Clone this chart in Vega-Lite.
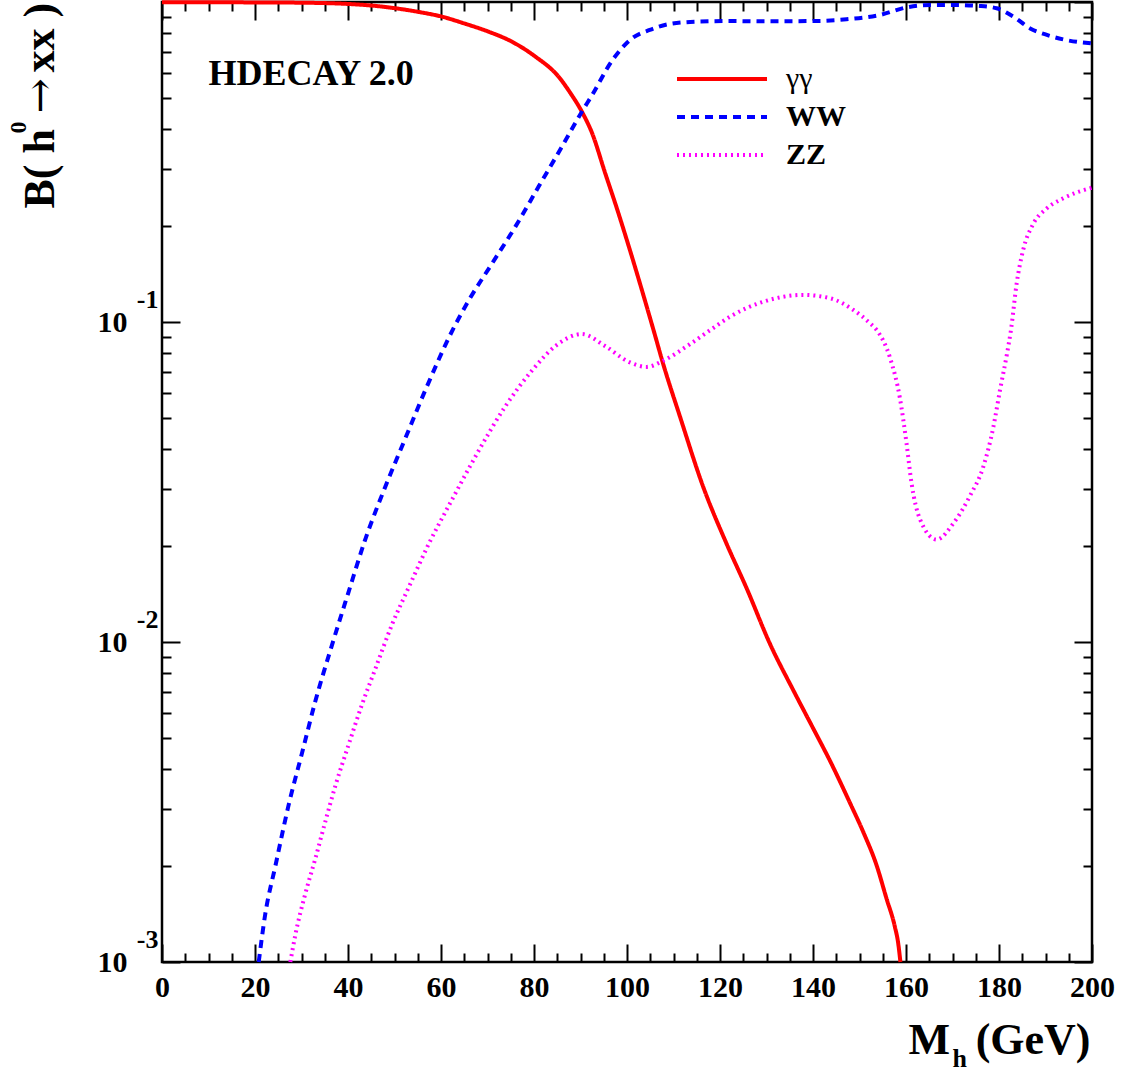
{
  "$schema": "https://vega.github.io/schema/vega-lite/v6.json",
  "width": 930,
  "height": 960,
  "autosize": {"type": "none"},
  "padding": {"left": 162, "top": 2, "right": 30, "bottom": 114},
  "background": "white",
  "config": {
    "font": "Liberation Serif",
    "view": {"stroke": "black", "strokeWidth": 2.5},
    "axis": {
      "grid": false,
      "domain": false,
      "tickColor": "black",
      "tickWidth": 2,
      "labelColor": "black",
      "labelFont": "Liberation Serif",
      "labelFontWeight": "bold",
      "titleColor": "black",
      "titleFont": "Liberation Serif",
      "titleFontWeight": "bold",
      "titleFontSize": 44,
      "titleBaseline": "alphabetic",
      "labelOverlap": false,
      "labelFlush": false,
      "labelBound": false
    }
  },
  "data": {
    "values": [
      {"M": 0, "B": 0.999, "decay": "γγ"},
      {"M": 10, "B": 0.998, "decay": "γγ"},
      {"M": 20, "B": 0.997, "decay": "γγ"},
      {"M": 30, "B": 0.995, "decay": "γγ"},
      {"M": 40, "B": 0.986, "decay": "γγ"},
      {"M": 45, "B": 0.975, "decay": "γγ"},
      {"M": 50.2, "B": 0.956, "decay": "γγ"},
      {"M": 55, "B": 0.932, "decay": "γγ"},
      {"M": 60.2, "B": 0.9, "decay": "γγ"},
      {"M": 65, "B": 0.857, "decay": "γγ"},
      {"M": 70.2, "B": 0.808, "decay": "γγ"},
      {"M": 75.3, "B": 0.751, "decay": "γγ"},
      {"M": 80.3, "B": 0.675, "decay": "γγ"},
      {"M": 85.3, "B": 0.584, "decay": "γγ"},
      {"M": 87.8, "B": 0.52, "decay": "γγ"},
      {"M": 90.3, "B": 0.454, "decay": "γγ"},
      {"M": 92.5, "B": 0.389, "decay": "γγ"},
      {"M": 95.3, "B": 0.292, "decay": "γγ"},
      {"M": 97.8, "B": 0.227, "decay": "γγ"},
      {"M": 100.4, "B": 0.172, "decay": "γγ"},
      {"M": 105.7, "B": 0.0944, "decay": "γγ"},
      {"M": 107.8, "B": 0.0738, "decay": "γγ"},
      {"M": 111.4, "B": 0.0506, "decay": "γγ"},
      {"M": 116.4, "B": 0.0305, "decay": "γγ"},
      {"M": 121.4, "B": 0.0203, "decay": "γγ"},
      {"M": 125.7, "B": 0.01475, "decay": "γγ"},
      {"M": 130.8, "B": 0.00983, "decay": "γγ"},
      {"M": 135.8, "B": 0.00705, "decay": "γγ"},
      {"M": 140.1, "B": 0.00535, "decay": "γγ"},
      {"M": 143.7, "B": 0.00424, "decay": "γγ"},
      {"M": 148, "B": 0.00313, "decay": "γγ"},
      {"M": 150.8, "B": 0.00255, "decay": "γγ"},
      {"M": 153.7, "B": 0.002, "decay": "γγ"},
      {"M": 155.8, "B": 0.00158, "decay": "γγ"},
      {"M": 157.6, "B": 0.00129, "decay": "γγ"},
      {"M": 158.3, "B": 0.00115, "decay": "γγ"},
      {"M": 158.8, "B": 0.001, "decay": "γγ"},

      {"M": 20.8, "B": 0.001, "decay": "WW"},
      {"M": 22.2, "B": 0.00141, "decay": "WW"},
      {"M": 24.4, "B": 0.002, "decay": "WW"},
      {"M": 27.2, "B": 0.00308, "decay": "WW"},
      {"M": 30.1, "B": 0.00449, "decay": "WW"},
      {"M": 33, "B": 0.00655, "decay": "WW"},
      {"M": 36.6, "B": 0.00983, "decay": "WW"},
      {"M": 40.1, "B": 0.0143, "decay": "WW"},
      {"M": 43.7, "B": 0.0209, "decay": "WW"},
      {"M": 48, "B": 0.0305, "decay": "WW"},
      {"M": 52.3, "B": 0.0432, "decay": "WW"},
      {"M": 56.6, "B": 0.0611, "decay": "WW"},
      {"M": 62.6, "B": 0.095, "decay": "WW"},
      {"M": 66, "B": 0.117, "decay": "WW"},
      {"M": 71, "B": 0.1525, "decay": "WW"},
      {"M": 76, "B": 0.1986, "decay": "WW"},
      {"M": 81, "B": 0.265, "decay": "WW"},
      {"M": 86, "B": 0.353, "decay": "WW"},
      {"M": 90.3, "B": 0.454, "decay": "WW"},
      {"M": 92.5, "B": 0.512, "decay": "WW"},
      {"M": 96.8, "B": 0.656, "decay": "WW"},
      {"M": 101.1, "B": 0.77, "decay": "WW"},
      {"M": 104.9, "B": 0.818, "decay": "WW"},
      {"M": 109.2, "B": 0.854, "decay": "WW"},
      {"M": 115, "B": 0.868, "decay": "WW"},
      {"M": 122.2, "B": 0.872, "decay": "WW"},
      {"M": 129.3, "B": 0.87, "decay": "WW"},
      {"M": 140.1, "B": 0.872, "decay": "WW"},
      {"M": 147.2, "B": 0.883, "decay": "WW"},
      {"M": 154.4, "B": 0.911, "decay": "WW"},
      {"M": 160.1, "B": 0.962, "decay": "WW"},
      {"M": 165.2, "B": 0.979, "decay": "WW"},
      {"M": 170.3, "B": 0.979, "decay": "WW"},
      {"M": 175.9, "B": 0.972, "decay": "WW"},
      {"M": 179.5, "B": 0.956, "decay": "WW"},
      {"M": 183.1, "B": 0.9, "decay": "WW"},
      {"M": 186.7, "B": 0.827, "decay": "WW"},
      {"M": 190.3, "B": 0.789, "decay": "WW"},
      {"M": 193.8, "B": 0.764, "decay": "WW"},
      {"M": 200, "B": 0.742, "decay": "WW"},

      {"M": 27.6, "B": 0.001, "decay": "ZZ"},
      {"M": 28.7, "B": 0.00122, "decay": "ZZ"},
      {"M": 30.8, "B": 0.00163, "decay": "ZZ"},
      {"M": 33, "B": 0.00211, "decay": "ZZ"},
      {"M": 35.1, "B": 0.00274, "decay": "ZZ"},
      {"M": 37.3, "B": 0.00356, "decay": "ZZ"},
      {"M": 40.1, "B": 0.00476, "decay": "ZZ"},
      {"M": 43, "B": 0.00637, "decay": "ZZ"},
      {"M": 45.9, "B": 0.00826, "decay": "ZZ"},
      {"M": 49.5, "B": 0.01137, "decay": "ZZ"},
      {"M": 53, "B": 0.01475, "decay": "ZZ"},
      {"M": 57.4, "B": 0.0203, "decay": "ZZ"},
      {"M": 62.4, "B": 0.0279, "decay": "ZZ"},
      {"M": 68.1, "B": 0.0396, "decay": "ZZ"},
      {"M": 73.8, "B": 0.0544, "decay": "ZZ"},
      {"M": 79.6, "B": 0.0706, "decay": "ZZ"},
      {"M": 84.6, "B": 0.0841, "decay": "ZZ"},
      {"M": 90.3, "B": 0.0917, "decay": "ZZ"},
      {"M": 95.3, "B": 0.0841, "decay": "ZZ"},
      {"M": 100.5, "B": 0.0749, "decay": "ZZ"},
      {"M": 104.2, "B": 0.0724, "decay": "ZZ"},
      {"M": 107.8, "B": 0.0757, "decay": "ZZ"},
      {"M": 113.5, "B": 0.0852, "decay": "ZZ"},
      {"M": 118.2, "B": 0.095, "decay": "ZZ"},
      {"M": 122.2, "B": 0.104, "decay": "ZZ"},
      {"M": 129.3, "B": 0.1157, "decay": "ZZ"},
      {"M": 137.9, "B": 0.1215, "decay": "ZZ"},
      {"M": 143.7, "B": 0.1186, "decay": "ZZ"},
      {"M": 148.7, "B": 0.109, "decay": "ZZ"},
      {"M": 152.3, "B": 0.099, "decay": "ZZ"},
      {"M": 153.7, "B": 0.0944, "decay": "ZZ"},
      {"M": 156.6, "B": 0.077, "decay": "ZZ"},
      {"M": 158.7, "B": 0.0577, "decay": "ZZ"},
      {"M": 160.1, "B": 0.0419, "decay": "ZZ"},
      {"M": 161.2, "B": 0.0313, "decay": "ZZ"},
      {"M": 163, "B": 0.0242, "decay": "ZZ"},
      {"M": 166.6, "B": 0.0209, "decay": "ZZ"},
      {"M": 170.2, "B": 0.0235, "decay": "ZZ"},
      {"M": 173.8, "B": 0.0287, "decay": "ZZ"},
      {"M": 176.6, "B": 0.0352, "decay": "ZZ"},
      {"M": 178.8, "B": 0.0471, "decay": "ZZ"},
      {"M": 180.2, "B": 0.0611, "decay": "ZZ"},
      {"M": 181.7, "B": 0.0793, "decay": "ZZ"},
      {"M": 182.6, "B": 0.095, "decay": "ZZ"},
      {"M": 183.8, "B": 0.132, "decay": "ZZ"},
      {"M": 185.2, "B": 0.168, "decay": "ZZ"},
      {"M": 187.4, "B": 0.203, "decay": "ZZ"},
      {"M": 190.3, "B": 0.2266, "decay": "ZZ"},
      {"M": 193.8, "B": 0.2435, "decay": "ZZ"},
      {"M": 200, "B": 0.263, "decay": "ZZ"}
    ]
  },
  "resolve": {"axis": {"x": "independent", "y": "independent"}},
  "layer": [
    {
      "transform": [{"filter": "datum.decay === 'γγ'"}],
      "mark": {"type": "line", "strokeWidth": 4, "interpolate": "monotone"},
      "encoding": {
        "x": {
          "field": "M", "type": "quantitative",
          "scale": {"domain": [0, 200], "nice": false, "zero": false},
          "axis": {
            "orient": "bottom",
            "values": [0,5,10,15,20,25,30,35,40,45,50,55,60,65,70,75,80,85,90,95,100,105,110,115,120,125,130,135,140,145,150,155,160,165,170,175,180,185,190,195,200],
            "format": "d",
            "tickSize": {"condition": {"test": "datum.value % 20 === 0", "value": -18}, "value": -9},
            "labelExpr": "datum.value % 20 === 0 ? datum.label : ''",
            "labelFontSize": 30, "labelPadding": 28, "labelBaseline": "top", "labelAlign": "center",
            "title": "(GeV)", "titleX": 928, "titleY": 91, "titleAlign": "right", "titleAngle": 0
          }
        },
        "y": {
          "field": "B", "type": "quantitative",
          "scale": {"type": "log", "domain": [0.001, 1], "nice": false},
          "axis": {
            "orient": "left",
            "values": [0.001,0.002,0.003,0.004,0.005,0.006,0.007,0.008,0.009,0.01,0.02,0.03,0.04,0.05,0.06,0.07,0.08,0.09,0.1,0.2,0.3,0.4,0.5,0.6,0.7,0.8,0.9,1],
            "tickSize": {"condition": {"test": "abs(log(datum.value)/LN10 - round(log(datum.value)/LN10)) < 0.000001", "value": -18}, "value": -9},
            "labelExpr": "(abs(log(datum.value)/LN10 - round(log(datum.value)/LN10)) < 0.000001 && datum.value < 0.5) ? '10' : ''",
            "labelFontSize": 30, "labelPadding": 53, "labelAlign": "right", "labelBaseline": "middle",
            "title": "B( h", "titleX": -109, "titleY": 206, "titleAngle": 270, "titleAlign": "left"
          }
        },
        "color": {
          "field": "decay", "type": "nominal",
          "scale": {"domain": ["γγ", "WW", "ZZ"], "range": ["#ff0000", "#0000ff", "#ff00ff"]},
          "legend": {
            "orient": "none", "legendX": 513, "legendY": 58, "title": null, "padding": 0,
            "symbolType": "stroke", "symbolSize": 8100, "symbolStrokeWidth": 4, "symbolOffset": 0,
            "clipHeight": 38, "rowPadding": 0, "labelOffset": 17,
            "labelFont": "Liberation Serif", "labelFontWeight": "bold", "labelFontSize": 30, "labelColor": "black",
            "encode": {"labels": {"update": {"fontWeight": {"signal": "datum.label === 'γγ' ? 'normal' : 'bold'"}}}}
          }
        },
        "strokeDash": {
          "field": "decay", "type": "nominal",
          "scale": {"domain": ["γγ", "WW", "ZZ"], "range": [[1, 0], [8, 6], [2, 4]]},
          "legend": {
            "orient": "none", "legendX": 513, "legendY": 58, "title": null, "padding": 0,
            "symbolType": "stroke", "symbolSize": 8100, "symbolStrokeWidth": 4, "symbolOffset": 0,
            "clipHeight": 38, "rowPadding": 0, "labelOffset": 17,
            "labelFont": "Liberation Serif", "labelFontWeight": "bold", "labelFontSize": 30, "labelColor": "black",
            "encode": {"labels": {"update": {"fontWeight": {"signal": "datum.label === 'γγ' ? 'normal' : 'bold'"}}}}
          }
        }
      }
    },
    {
      "transform": [{"filter": "datum.decay === 'WW'"}],
      "mark": {"type": "line", "strokeWidth": 4, "interpolate": "monotone"},
      "encoding": {
        "x": {
          "field": "M", "type": "quantitative",
          "scale": {"domain": [0, 200], "nice": false, "zero": false},
          "axis": {
            "orient": "top",
            "values": [0,5,10,15,20,25,30,35,40,45,50,55,60,65,70,75,80,85,90,95,100,105,110,115,120,125,130,135,140,145,150,155,160,165,170,175,180,185,190,195,200],
            "tickSize": {"condition": {"test": "datum.value % 20 === 0", "value": -18}, "value": -9},
            "labels": false,
            "title": "M", "titleX": 746, "titleY": 1051, "titleAngle": 0, "titleAlign": "left"
          }
        },
        "y": {
          "field": "B", "type": "quantitative",
          "scale": {"type": "log", "domain": [0.001, 1], "nice": false},
          "axis": {
            "orient": "right",
            "values": [0.001,0.002,0.003,0.004,0.005,0.006,0.007,0.008,0.009,0.01,0.02,0.03,0.04,0.05,0.06,0.07,0.08,0.09,0.1,0.2,0.3,0.4,0.5,0.6,0.7,0.8,0.9,1],
            "tickSize": {"condition": {"test": "abs(log(datum.value)/LN10 - round(log(datum.value)/LN10)) < 0.000001", "value": -18}, "value": -9},
            "labelExpr": "(abs(log(datum.value)/LN10 - round(log(datum.value)/LN10)) < 0.000001 && datum.value < 0.5) ? '' + round(log(datum.value)/LN10) : ''",
            "labelFontSize": 26, "labelPadding": -916, "labelAlign": "right", "labelBaseline": "middle", "labelOffset": -23,
            "title": "h", "titleFontSize": 26, "titleX": -140, "titleY": 1064, "titleAngle": 0, "titleAlign": "left"
          }
        },
        "color": {"field": "decay", "type": "nominal", "scale": {"domain": ["γγ", "WW", "ZZ"], "range": ["#ff0000", "#0000ff", "#ff00ff"]},
          "legend": {
            "orient": "none", "legendX": 513, "legendY": 58, "title": null, "padding": 0,
            "symbolType": "stroke", "symbolSize": 8100, "symbolStrokeWidth": 4, "symbolOffset": 0,
            "clipHeight": 38, "rowPadding": 0, "labelOffset": 17,
            "labelFont": "Liberation Serif", "labelFontWeight": "bold", "labelFontSize": 30, "labelColor": "black",
            "encode": {"labels": {"update": {"fontWeight": {"signal": "datum.label === 'γγ' ? 'normal' : 'bold'"}}}}
          }},
        "strokeDash": {"field": "decay", "type": "nominal", "scale": {"domain": ["γγ", "WW", "ZZ"], "range": [[1, 0], [8, 6], [2, 4]]},
          "legend": {
            "orient": "none", "legendX": 513, "legendY": 58, "title": null, "padding": 0,
            "symbolType": "stroke", "symbolSize": 8100, "symbolStrokeWidth": 4, "symbolOffset": 0,
            "clipHeight": 38, "rowPadding": 0, "labelOffset": 17,
            "labelFont": "Liberation Serif", "labelFontWeight": "bold", "labelFontSize": 30, "labelColor": "black",
            "encode": {"labels": {"update": {"fontWeight": {"signal": "datum.label === 'γγ' ? 'normal' : 'bold'"}}}}
          }}
      }
    },
    {
      "transform": [{"filter": "datum.decay === 'ZZ'"}],
      "mark": {"type": "line", "strokeWidth": 4, "interpolate": "monotone"},
      "encoding": {
        "x": {
          "field": "M", "type": "quantitative",
          "scale": {"domain": [0, 200], "nice": false, "zero": false},
          "axis": {
            "orient": "bottom", "ticks": false, "labels": false, "domain": false,
            "title": "0", "titleFontSize": 24, "titleX": -137, "titleY": -829, "titleAngle": 270, "titleAlign": "left"
          }
        },
        "y": {
          "field": "B", "type": "quantitative",
          "scale": {"type": "log", "domain": [0.001, 1], "nice": false},
          "axis": {
            "orient": "left", "ticks": false, "labels": false, "domain": false,
            "title": "→", "titleFont": "DejaVu Serif", "titleFontWeight": "normal", "titleFontSize": 42,
            "titleX": -109, "titleY": 111, "titleAngle": 270, "titleAlign": "left"
          }
        },
        "color": {"field": "decay", "type": "nominal", "scale": {"domain": ["γγ", "WW", "ZZ"], "range": ["#ff0000", "#0000ff", "#ff00ff"]},
          "legend": {
            "orient": "none", "legendX": 513, "legendY": 58, "title": null, "padding": 0,
            "symbolType": "stroke", "symbolSize": 8100, "symbolStrokeWidth": 4, "symbolOffset": 0,
            "clipHeight": 38, "rowPadding": 0, "labelOffset": 17,
            "labelFont": "Liberation Serif", "labelFontWeight": "bold", "labelFontSize": 30, "labelColor": "black",
            "encode": {"labels": {"update": {"fontWeight": {"signal": "datum.label === 'γγ' ? 'normal' : 'bold'"}}}}
          }},
        "strokeDash": {"field": "decay", "type": "nominal", "scale": {"domain": ["γγ", "WW", "ZZ"], "range": [[1, 0], [8, 6], [2, 4]]},
          "legend": {
            "orient": "none", "legendX": 513, "legendY": 58, "title": null, "padding": 0,
            "symbolType": "stroke", "symbolSize": 8100, "symbolStrokeWidth": 4, "symbolOffset": 0,
            "clipHeight": 38, "rowPadding": 0, "labelOffset": 17,
            "labelFont": "Liberation Serif", "labelFontWeight": "bold", "labelFontSize": 30, "labelColor": "black",
            "encode": {"labels": {"update": {"fontWeight": {"signal": "datum.label === 'γγ' ? 'normal' : 'bold'"}}}}
          }}
      }
    },
    {
      "data": {"values": [{}]},
      "mark": {"type": "text", "text": "HDECAY 2.0", "font": "Liberation Serif", "fontWeight": "bold", "fontSize": 36, "align": "left", "baseline": "alphabetic", "color": "black"},
      "encoding": {
        "x": {
          "datum": 10, "type": "quantitative",
          "scale": {"domain": [0, 200], "nice": false, "zero": false},
          "axis": {
            "orient": "top", "ticks": false, "labels": false, "domain": false,
            "title": "xx )", "titleX": -109, "titleY": 70, "titleAngle": 270, "titleAlign": "left"
          }
        },
        "y": {
          "datum": 0.55, "type": "quantitative",
          "scale": {"type": "log", "domain": [0.001, 1], "nice": false},
          "axis": null
        }
      }
    }
  ]
}
